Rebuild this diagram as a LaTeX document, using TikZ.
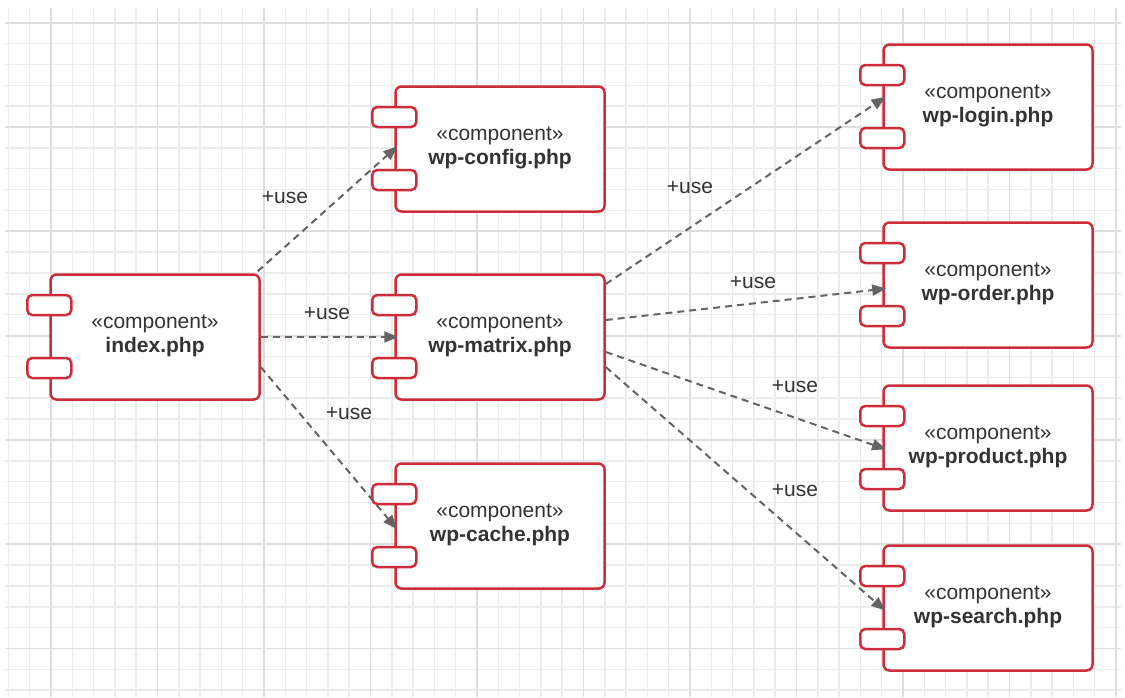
\documentclass[tikz,border=0pt]{standalone}
\usepackage{fontspec}
\setmainfont{Liberation Sans}
\usetikzlibrary{arrows.meta,calc}
\definecolor{compred}{RGB}{205,45,57}
\definecolor{txt}{RGB}{51,51,51}
\definecolor{edgegray}{RGB}{100,100,100}
\definecolor{gridminor}{RGB}{236,236,236}
\definecolor{gridmajor}{RGB}{222,222,222}
\tikzset{
  compbox/.style={draw=compred, line width=2.5pt, fill=white, rounded corners=6pt,
    minimum width=209pt, minimum height=125pt, inner sep=0pt},
  port/.style={draw=compred, line width=2.5pt, fill=white, rounded corners=5pt,
    minimum width=44pt, minimum height=20pt, inner sep=0pt},
  stereo/.style={anchor=base, text=txt, font=\fontsize{21pt}{24pt}\selectfont, inner sep=0pt},
  cname/.style={anchor=base, text=txt, font=\fontsize{21pt}{24pt}\selectfont\bfseries, inner sep=0pt},
  usearrow/.style={draw=edgegray, line width=2pt, dash pattern=on 7pt off 5pt,
    -{Triangle[length=14pt,width=11pt]}, shorten >=-4pt},
  lbl/.style={text=txt, font=\fontsize{21pt}{24pt}\selectfont, inner sep=0pt},
  gminor/.style={draw=gridminor, line width=1.5pt},
  gmajor/.style={draw=gridmajor, line width=1.8pt},
}
\newcommand\umlcomp[4]{%
  \node[compbox] (#1) at (#2,#3) {};
  \node[port] (#1-p1) at ($(#1.west)+(0,-32)$) {};
  \node[port] (#1-p2) at ($(#1.west)+(0,31)$) {};
  \node[stereo] (#1-s) at ($(#1.center)+(0,-9)$) {«component»};
  \node[cname] (#1-n) at ($(#1.center)+(0,15)$) {#4};
}
\begin{document}
\begin{tikzpicture}[x=1pt,y=-1pt]
\useasboundingbox (0,0) rectangle (1125,697);
\fill[white] (0,0) rectangle (1125,697);
% grid
\foreach \k in {0,...,52} {
  \pgfmathsetmacro\xx{8.4+21.3*\k}
  \draw[gminor] (\xx,7.5) -- (\xx,697);
}
\foreach \k in {0,...,32} {
  \pgfmathsetmacro\yy{22.7+20.86*\k}
  \draw[gminor] (5,\yy) -- (1121,\yy);
}
\foreach \k in {2,7,...,52} {
  \pgfmathsetmacro\xx{8.4+21.3*\k}
  \draw[gmajor] (\xx,7.5) -- (\xx,697);
}
\foreach \k in {0,5,...,30} {
  \pgfmathsetmacro\yy{22.7+20.86*\k}
  \draw[gmajor] (5,\yy) -- (1121,\yy);
}
% components
\umlcomp{index}{155}{337}{index.php}
\umlcomp{config}{500}{149}{wp-config.php}
\umlcomp{matrix}{500}{337}{wp-matrix.php}
\umlcomp{cache}{500}{526}{wp-cache.php}
\umlcomp{login}{988}{107}{wp-login.php}
\umlcomp{order}{988}{285}{wp-order.php}
\umlcomp{product}{988}{448}{wp-product.php}
\umlcomp{search}{988}{608}{wp-search.php}
% connectors
\draw[usearrow] ($(index.north east)+(-3,-2)$) -- (config.west);
\draw[usearrow] (index.east) -- (matrix.west);
\draw[usearrow] ($(index.east)+(0,30)$) -- (cache.west);
\draw[usearrow] ($(matrix.east)+(0,-53)$) -- ($(login.west)+(0,-8)$);
\draw[usearrow] ($(matrix.east)+(0,-17)$) -- ($(order.west)+(0,4)$);
\draw[usearrow] ($(matrix.east)+(0,15)$) -- (product.west);
\draw[usearrow] ($(matrix.east)+(0,30)$) -- (search.west);
% labels
\node[lbl] (u1) at (285,198) {+use};
\node[lbl] (u2) at (327,314) {+use};
\node[lbl] (u3) at (349,414) {+use};
\node[lbl] (u4) at (690,188) {+use};
\node[lbl] (u5) at (753,283) {+use};
\node[lbl] (u6) at (795,387) {+use};
\node[lbl] (u7) at (795,491) {+use};
\end{tikzpicture}
\end{document}
